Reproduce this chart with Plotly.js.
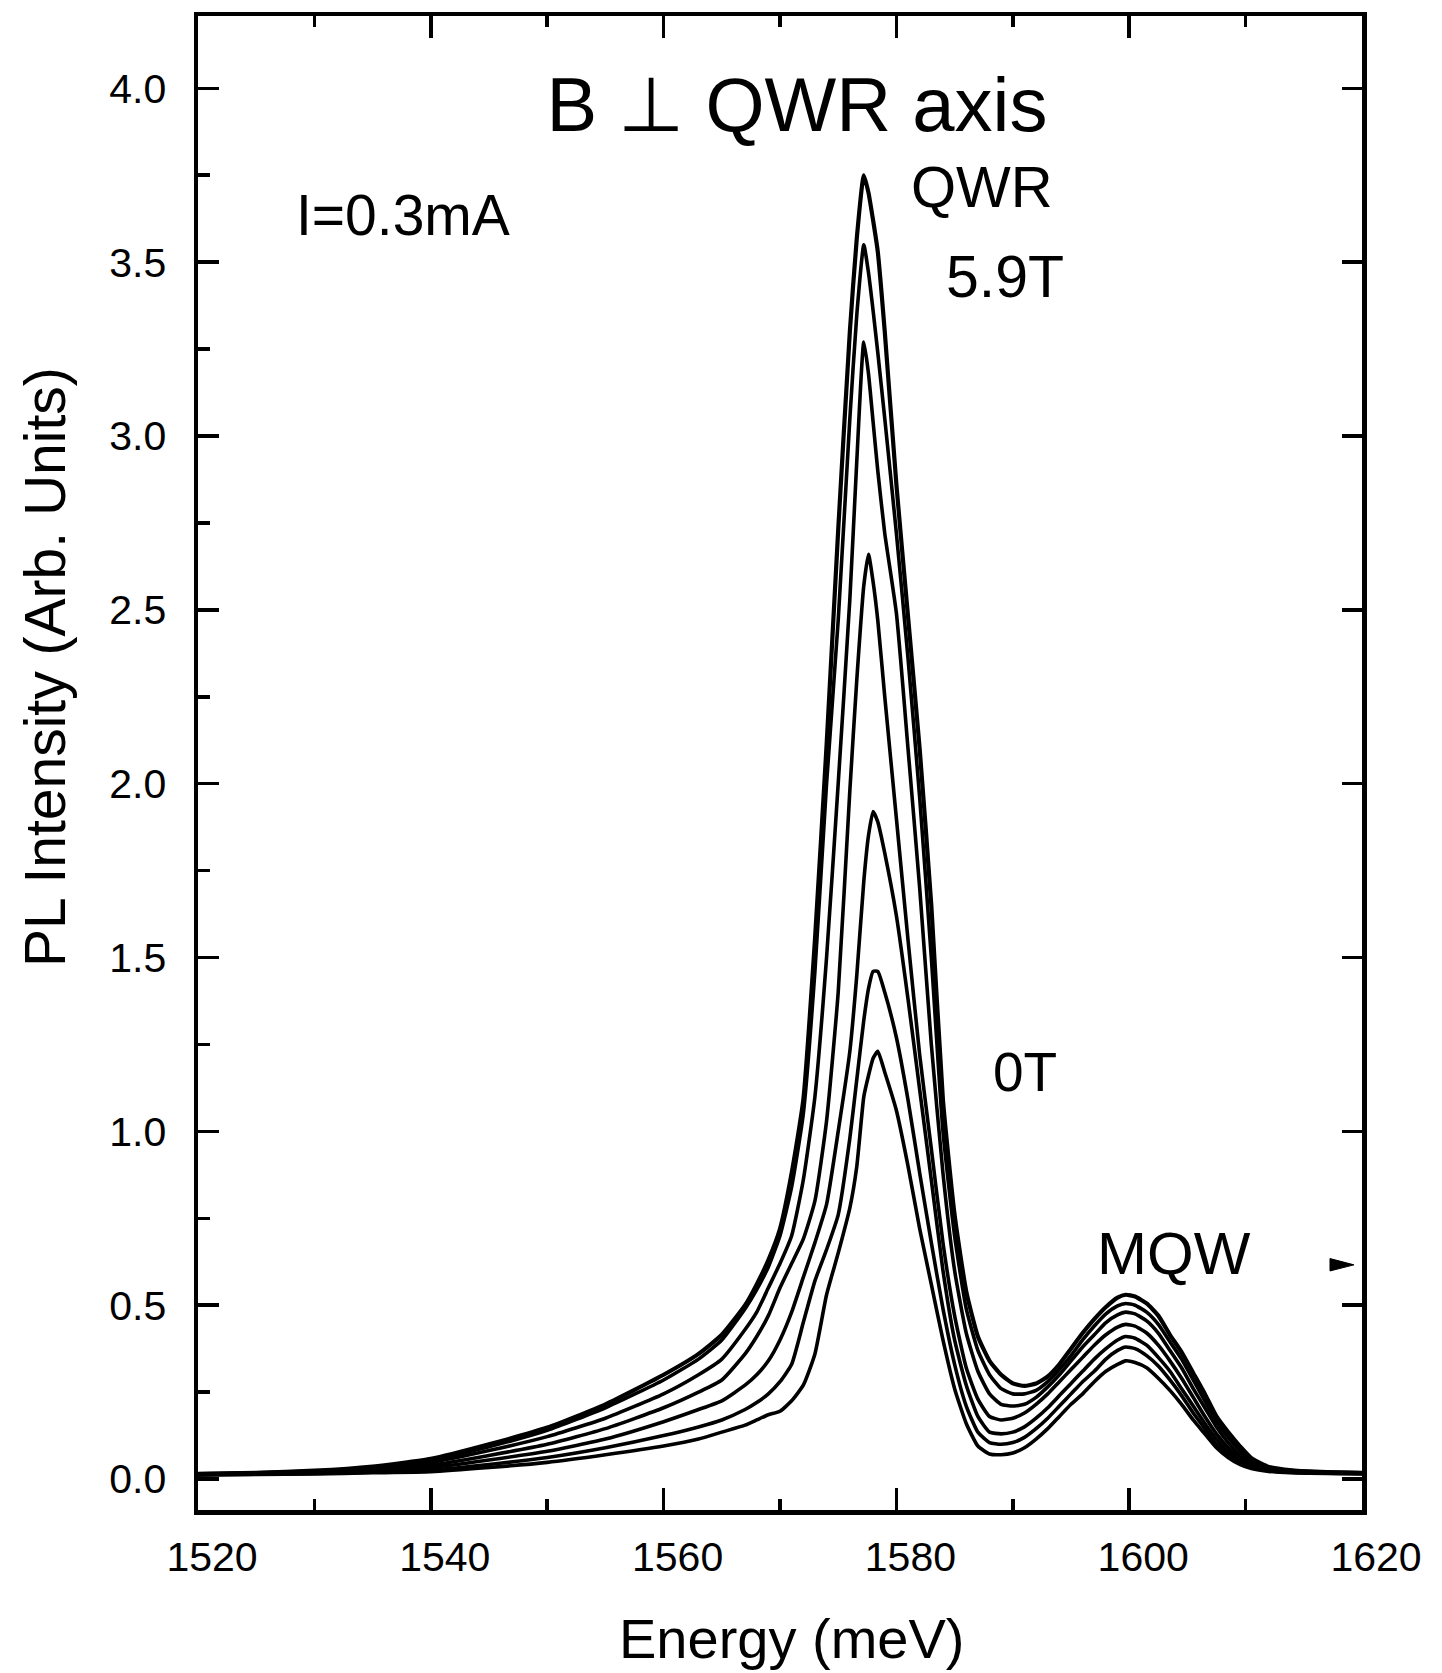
<!DOCTYPE html>
<html>
<head>
<meta charset="utf-8">
<script src="https://cdn.plot.ly/plotly-3.0.1.min.js"></script>
<style>
  html, body { margin: 0; padding: 0; background: #ffffff; }
  #chart { width: 1442px; height: 1673px; }
</style>
</head>
<body>
<div id="chart"></div>
<script>
// Photon energy grid (meV)
const energy = [1520, 1525, 1530, 1535, 1540, 1545, 1550, 1555, 1560, 1563, 1565,
  1567, 1568, 1569, 1570, 1571, 1572, 1573, 1574, 1575, 1576,
  1576.6, 1577.2, 1577.6, 1578.0, 1578.4,
  1579, 1580, 1581, 1582, 1583, 1584, 1585, 1586, 1587, 1588, 1589, 1590,
  1591, 1592, 1593, 1594, 1595, 1596, 1597, 1598, 1599,
  1599.7,
  1600.5, 1601.5, 1602.5, 1603.5, 1604.5, 1605.5, 1606.5, 1607.5, 1608.5, 1609.5, 1610.5,
  1612, 1614, 1617, 1620];

// PL intensity spectra, from 0T (lowest QWR peak) up to 5.9T (highest)
const pl_0T = [0.012, 0.013, 0.015, 0.018, 0.021, 0.033, 0.048, 0.07, 0.095, 0.115, 0.135,
  0.155, 0.17, 0.185, 0.195, 0.225, 0.27, 0.36, 0.53, 0.65, 0.78,
  0.90, 1.10, 1.16, 1.21, 1.23,
  1.17, 1.06, 0.90, 0.72, 0.56, 0.40, 0.26, 0.16, 0.095, 0.072, 0.07, 0.075,
  0.09, 0.115, 0.145, 0.18, 0.215, 0.245, 0.28, 0.31, 0.33,
  0.34,
  0.335, 0.32, 0.29, 0.255, 0.215, 0.17, 0.13, 0.09, 0.062, 0.042, 0.03,
  0.022, 0.018, 0.016, 0.015];

const pl_b2 = [0.012, 0.014, 0.016, 0.02, 0.026, 0.042, 0.062, 0.09, 0.125, 0.15, 0.17,
  0.20, 0.22, 0.245, 0.28, 0.33, 0.45, 0.57, 0.66, 0.76, 0.98,
  1.15, 1.32, 1.41, 1.46, 1.46,
  1.40, 1.27, 1.09, 0.88, 0.68, 0.49, 0.33, 0.21, 0.135, 0.105, 0.10, 0.105,
  0.12, 0.145, 0.175, 0.21, 0.245, 0.28, 0.31, 0.345, 0.37,
  0.38,
  0.375, 0.355, 0.325, 0.285, 0.24, 0.19, 0.145, 0.10, 0.07, 0.047, 0.033,
  0.024, 0.019, 0.017, 0.016];

const pl_b3 = [0.013, 0.015, 0.018, 0.023, 0.033, 0.055, 0.08, 0.115, 0.165, 0.20, 0.225,
  0.27, 0.30, 0.34, 0.40, 0.48, 0.58, 0.68, 0.79, 1.00, 1.23,
  1.45, 1.72, 1.85, 1.92, 1.89,
  1.80, 1.62, 1.38, 1.12, 0.86, 0.60, 0.40, 0.27, 0.18, 0.135, 0.13, 0.135,
  0.15, 0.175, 0.205, 0.24, 0.275, 0.31, 0.345, 0.375, 0.40,
  0.41,
  0.405, 0.385, 0.35, 0.31, 0.26, 0.21, 0.16, 0.115, 0.078, 0.052, 0.036,
  0.025, 0.02, 0.017, 0.016];

const pl_b4 = [0.013, 0.016, 0.02, 0.027, 0.04, 0.068, 0.10, 0.145, 0.205, 0.25, 0.285,
  0.36, 0.41, 0.47, 0.55, 0.62, 0.69, 0.80, 1.03, 1.40, 1.98,
  2.30, 2.57, 2.66, 2.58, 2.47,
  2.25, 1.90, 1.55, 1.22, 0.95, 0.68, 0.47, 0.32, 0.23, 0.18, 0.17, 0.175,
  0.19, 0.215, 0.245, 0.28, 0.315, 0.35, 0.385, 0.415, 0.437,
  0.445,
  0.44, 0.42, 0.385, 0.34, 0.29, 0.235, 0.18, 0.13, 0.09, 0.06, 0.04,
  0.027, 0.021, 0.018, 0.017];

const pl_b5 = [0.014, 0.017, 0.022, 0.031, 0.048, 0.082, 0.122, 0.175, 0.245, 0.30, 0.345,
  0.43, 0.48, 0.55, 0.62, 0.70, 0.86, 1.10, 1.50, 2.00, 2.53,
  2.93, 3.27, 3.18, 3.04, 2.90,
  2.72, 2.49, 2.10, 1.70, 1.25, 0.88, 0.60, 0.42, 0.31, 0.245, 0.215, 0.21,
  0.215, 0.235, 0.265, 0.30, 0.34, 0.38, 0.415, 0.45, 0.472,
  0.48,
  0.475, 0.455, 0.42, 0.37, 0.32, 0.26, 0.205, 0.15, 0.105, 0.07, 0.046,
  0.03, 0.022, 0.019, 0.018];

const pl_b6 = [0.015, 0.018, 0.023, 0.034, 0.055, 0.093, 0.14, 0.205, 0.285, 0.345, 0.40,
  0.49, 0.545, 0.61, 0.70, 0.84, 1.05, 1.46, 2.00, 2.47, 3.05,
  3.35, 3.55, 3.47, 3.36, 3.24,
  3.05, 2.72, 2.36, 1.96, 1.50, 1.00, 0.70, 0.49, 0.37, 0.30, 0.26, 0.245,
  0.245, 0.255, 0.28, 0.315, 0.355, 0.40, 0.44, 0.475, 0.498,
  0.505,
  0.50, 0.48, 0.445, 0.395, 0.345, 0.285, 0.225, 0.165, 0.12, 0.082, 0.053,
  0.032, 0.024, 0.02, 0.018];

const pl_59T = [0.015, 0.018, 0.024, 0.036, 0.058, 0.10, 0.148, 0.215, 0.30, 0.36, 0.415,
  0.50, 0.56, 0.63, 0.72, 0.88, 1.09, 1.55, 2.11, 2.73, 3.30,
  3.57, 3.75, 3.70, 3.62, 3.53,
  3.30, 2.86, 2.48, 2.10, 1.65, 1.09, 0.76, 0.54, 0.41, 0.34, 0.30, 0.275,
  0.268, 0.275, 0.295, 0.33, 0.375, 0.42, 0.46, 0.495, 0.522,
  0.53,
  0.525, 0.505, 0.47, 0.415, 0.365, 0.305, 0.245, 0.18, 0.135, 0.095, 0.06,
  0.035, 0.025, 0.02, 0.018];

const seriesNames = ['0T', 'B2', 'B3', 'B4', 'B5', 'B6', '5.9T'];
const seriesData = [pl_0T, pl_b2, pl_b3, pl_b4, pl_b5, pl_b6, pl_59T];

const xTickVals = [1520, 1540, 1560, 1580, 1600, 1620];
const xTickText = ['1520', '1540', '1560', '1580', '1600', '1620'];
const yTickVals = [0, 0.5, 1.0, 1.5, 2.0, 2.5, 3.0, 3.5, 4.0];
const yTickText = ['0.0', '0.5', '1.0', '1.5', '2.0', '2.5', '3.0', '3.5', '4.0'];

const FONT = 'Liberation Sans, Arial, Helvetica, sans-serif';

const traces = seriesData.map(function (vals, i) {
  return {
    type: 'scatter',
    mode: 'lines',
    name: seriesNames[i],
    x: energy,
    y: vals,
    yaxis: i === 0 ? 'y2' : 'y',
    line: { color: '#000000', width: i === seriesData.length - 1 ? 4.2 : 3.6, shape: 'spline', smoothing: 0.5 },
    hoverinfo: 'x+y+name'
  };
});

const yRange = [-0.089, 4.208];

const layout = {
  width: 1442,
  height: 1673,
  margin: { l: 198, r: 80, t: 16, b: 163, pad: 0 },
  paper_bgcolor: '#ffffff',
  plot_bgcolor: '#ffffff',
  showlegend: false,
  font: { family: FONT, color: '#000000' },
  title: {
    text: 'B \u22A5 QWR axis',
    x: 0.5146, y: 0.9411, xref: 'paper', yref: 'paper',
    xanchor: 'center', yanchor: 'middle',
    font: { family: FONT, size: 76, color: '#000000' }
  },
  xaxis: {
    range: [1520, 1620],
    tickmode: 'array', tickvals: xTickVals, ticktext: xTickText,
    ticks: 'inside', ticklen: 22, tickwidth: 3.5, tickcolor: '#000000',
    showline: true, linewidth: 4.5, linecolor: '#000000', mirror: 'ticks',
    showgrid: false, zeroline: false,
    tickfont: { family: FONT, size: 41, color: '#000000' },
    ticklabelstandoff: 7,
    ticklabelshift: 14,
    minor: { tick0: 1520, dtick: 10, ticks: 'inside', ticklen: 11, tickwidth: 3.5, tickcolor: '#000000', showgrid: false }
  },
  yaxis: {
    range: yRange,
    tickmode: 'array', tickvals: yTickVals, ticktext: yTickText,
    ticks: 'inside', ticklen: 21, tickwidth: 3.5, tickcolor: '#000000',
    showline: true, linewidth: 4.5, linecolor: '#000000', mirror: false,
    showgrid: false, zeroline: false,
    tickfont: { family: FONT, size: 41, color: '#000000' },
    ticklabelstandoff: 19,
    minor: { tick0: 0, dtick: 0.25, ticks: 'inside', ticklen: 12, tickwidth: 3.5, tickcolor: '#000000', showgrid: false }
  },
  yaxis2: {
    range: yRange,
    overlaying: 'y', side: 'right', anchor: 'x',
    tickmode: 'array', tickvals: yTickVals,
    ticks: 'inside', ticklen: 20, tickwidth: 3.5, tickcolor: '#000000',
    showline: true, linewidth: 4.5, linecolor: '#000000',
    showticklabels: false, showgrid: false, zeroline: false
  },
  annotations: [
    { text: 'PL Intensity (Arb. Units)', xref: 'paper', yref: 'paper', x: -0.1315, y: 0.5642,
      xanchor: 'center', yanchor: 'middle', textangle: -90, showarrow: false,
      font: { family: FONT, size: 57, color: '#000000' } },
    { text: 'Energy (meV)', xref: 'paper', yref: 'paper', x: 0.5103, y: -0.0857,
      xanchor: 'center', yanchor: 'middle', showarrow: false,
      font: { family: FONT, size: 56, color: '#000000' } },
    { text: 'I=0.3mA', xref: 'paper', yref: 'paper', x: 0.1765, y: 0.8668,
      xanchor: 'center', yanchor: 'middle', showarrow: false,
      font: { family: FONT, size: 57, color: '#000000' } },
    { text: 'QWR', xref: 'paper', yref: 'paper', x: 0.6735, y: 0.8862,
      xanchor: 'center', yanchor: 'middle', showarrow: false,
      font: { family: FONT, size: 58, color: '#000000' } },
    { text: '5.9T', xref: 'paper', yref: 'paper', x: 0.6933, y: 0.8253,
      xanchor: 'center', yanchor: 'middle', showarrow: false,
      font: { family: FONT, size: 59, color: '#000000' } },
    { text: '0T', xref: 'paper', yref: 'paper', x: 0.7105, y: 0.2932,
      xanchor: 'center', yanchor: 'middle', showarrow: false,
      font: { family: FONT, size: 55, color: '#000000' } },
    { text: 'MQW', xref: 'paper', yref: 'paper', x: 0.8385, y: 0.1720,
      xanchor: 'center', yanchor: 'middle', showarrow: false,
      font: { family: FONT, size: 60, color: '#000000' } }
  ],
  shapes: [
    { type: 'path', xref: 'paper', yref: 'paper',
      path: 'M 0.9725 0.1683 L 0.9725 0.1600 L 0.9931 0.1641 Z',
      fillcolor: '#000000', line: { color: '#000000', width: 1 } }
  ]
};

Plotly.newPlot('chart', traces, layout, { displayModeBar: false, responsive: false, staticPlot: true });
</script>
</body>
</html>
